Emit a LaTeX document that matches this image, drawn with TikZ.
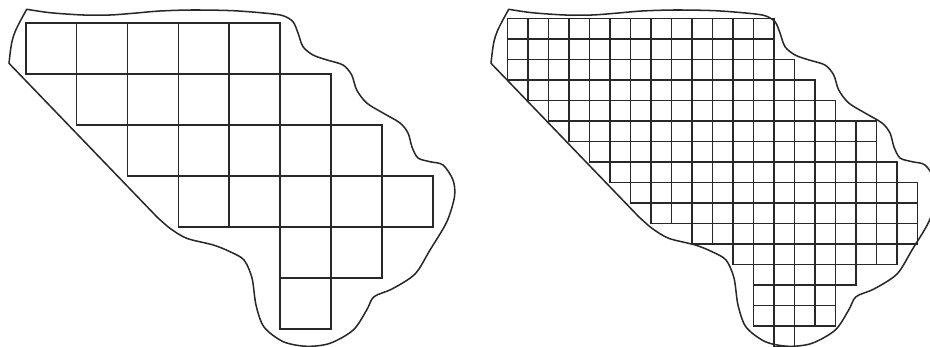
\documentclass[tikz,border=0pt]{standalone}
\usepackage{xcolor}
\definecolor{inkgray}{RGB}{40,40,40}
\usepackage{tikz}
\usetikzlibrary{calc}
\tikzset{
  blobline/.style={draw=inkgray,line width=1.3pt,line join=round},
  cellbig/.style={draw=inkgray,line width=1.5pt},
  cellsmall/.style={draw=inkgray,line width=1.3pt},
}

\begin{document}
\begin{tikzpicture}[x=0.03cm,y=-0.03cm]
  \useasboundingbox (0,0) rectangle (930,347);
  % the same outline twice, the right copy runs off the page
  \foreach \dx in {0,482}{
    \begin{scope}[shift={(\dx,0)}]
      \draw[blobline] plot[smooth,tension=0.5] coordinates {
        (26.7,9.3) (50,12.7) (83,15) (110,15) (133,13.3) (160,11) (193,10)
        (233,10.7) (266.7,13.3) (283,15.7) (293,21.7) (298,33) (303,46.7)
        (313,55) (327,60) (343,65) (351.7,75) (356.7,90) (366.7,103)
        (383,113) (400,123) (408,133) (412,147) (418,158) (430,161.7)
        (443,165) (453,180) (454.5,196.7) (446.7,222) (430,250) (415,274)
        (392,289) (374,296.7) (366.7,310) (353.3,330) (330,343.3)
        (306.7,346.3) (283.3,341.7) (264,327) (256,305) (252,278)
        (244,260) (230,251.7) (213.3,245) (186.7,238.3) (170,228.3)
        (156.7,216.7)}
        -- (9,63.3) .. controls (12,36) .. (26.7,9.3) -- cycle;
    \end{scope}
  }
  % coarse grid, left
  \foreach \r/\a/\b in {0/0/4,1/1/5,2/2/6,3/3/7,4/5/6,5/5/5}
    \foreach \c in {\a,...,\b}
      \draw[cellbig] ({25.7+50.9*\c},{23.3+50.9*\r})
        rectangle ({25.7+50.9*(\c+1)},{23.3+50.9*(\r+1)});
  % fine grid, right
  \foreach \r/\a/\b in {0/0/12,1/0/12,2/0/13,3/1/14,4/2/15,5/3/17,6/4/17,
      7/5/18,8/6/19,9/7/19,10/9/19,11/11/18,12/12/16,13/12/15,14/12/15,15/13/13}
    \foreach \c in {\a,...,\b}
      \draw[cellsmall] ({507.7+20.48*\c},{18.3+20.5*\r})
        rectangle ({507.7+20.48*(\c+1)},{18.3+20.5*(\r+1)});
\end{tikzpicture}
\end{document}
